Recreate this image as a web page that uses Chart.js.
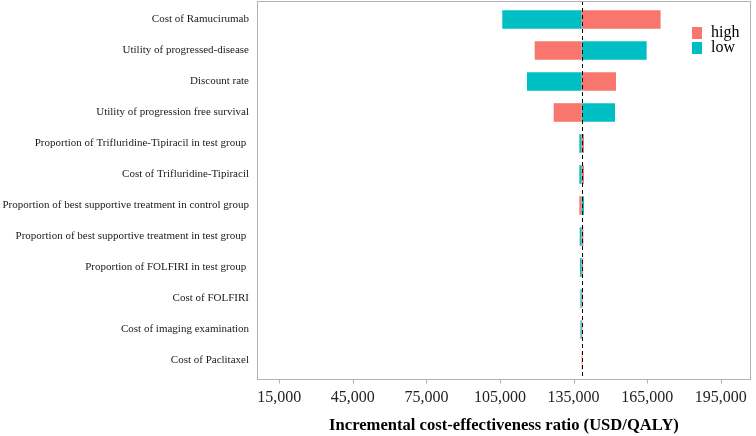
<!DOCTYPE html>
<html>
<head>
<meta charset="utf-8">
<script src="https://cdn.jsdelivr.net/npm/chart.js@4"></script>
<style>
  html, body { margin: 0; padding: 0; background: #fff; }
  #wrap { width: 756px; height: 436px; }
</style>
</head>
<body>
<div id="wrap"><canvas id="chart" width="756" height="436"></canvas></div>
<script>
// Data
var categories = [
    "Cost of Ramucirumab",
    "Utility of progressed-disease",
    "Discount rate",
    "Utility of progression free survival",
    "Proportion of Trifluridine-Tipiracil in test group ",
    "Cost of Trifluridine-Tipiracil",
    "Proportion of best supportive treatment in control group",
    "Proportion of best supportive treatment in test group ",
    "Proportion of FOLFIRI in test group ",
    "Cost of FOLFIRI",
    "Cost of imaging examination",
    "Cost of Paclitaxel"
];
var baseIcer = 138300;
var highValues = [170500, 119150, 152300, 126900, 139250, 139250, 137350, 139000, 138900, 138700, 138600, 138600];
var lowValues  = [105940, 164800, 116000, 151900, 137350, 137350, 139250, 137500, 137600, 137800, 137800, 138300];
var xTicks = [15000, 45000, 75000, 105000, 135000, 165000, 195000];

var colHigh = "#F8766D";
var colLow = "#00BFC4";
var serif = "'Liberation Serif', 'Times New Roman', serif";
var panelExpand = 3; // panel border sits a little outside the category bands

// Plot border, x tick marks, dashed base line
var panelPlugin = {
    id: "panel",
    afterDatasetsDraw: function(chart){
        var ctx = chart.ctx;
        var a = chart.chartArea;
        var xs = chart.scales.x;
        var top = a.top - panelExpand, bottom = a.bottom + panelExpand;
        var x = Math.round(xs.getPixelForValue(baseIcer)) + 0.5;
        ctx.save();
        ctx.strokeStyle = "#000";
        ctx.lineWidth = 1;
        ctx.setLineDash([4, 3]);
        ctx.beginPath();
        ctx.moveTo(x, top);
        ctx.lineTo(x, bottom);
        ctx.stroke();
        ctx.setLineDash([]);
        ctx.strokeStyle = "#b3b3b3";
        ctx.strokeRect(a.left + 0.5, top + 0.5, a.right - a.left - 1, bottom - top);
        ctx.beginPath();
        xTicks.forEach(function(v){
            var tx = Math.round(xs.getPixelForValue(v)) + 0.5;
            ctx.moveTo(tx, bottom + 0.5);
            ctx.lineTo(tx, bottom + 4.5);
        });
        ctx.stroke();
        ctx.restore();
    }
};

// Legend inside the panel, top right
var legendPlugin = {
    id: "keyLegend",
    afterDraw: function(chart){
        var ctx = chart.ctx;
        var items = [["high", colHigh, 27], ["low", colLow, 42]];
        ctx.save();
        ctx.font = "16px " + serif;
        ctx.textBaseline = "middle";
        ctx.textAlign = "left";
        items.forEach(function(it){
            ctx.fillStyle = it[1];
            ctx.fillRect(692, it[2], 10, 12);
            ctx.fillStyle = "#000";
            ctx.fillText(it[0], 711, it[2] + 6);
        });
        ctx.restore();
    }
};

var chart = new Chart(document.getElementById("chart"), {
    type: "bar",
    data: {
        labels: categories,
        datasets: [
            { label: "high", data: highValues, base: baseIcer, backgroundColor: colHigh, borderWidth: 0 },
            { label: "low", data: lowValues, base: baseIcer, backgroundColor: colLow, borderWidth: 0 }
        ]
    },
    options: {
        indexAxis: "y",
        responsive: false,
        animation: false,
        devicePixelRatio: 1,
        categoryPercentage: 1,
        barPercentage: 0.6,
        layout: { padding: { top: 4, right: 5, left: 0, bottom: 0 } },
        plugins: { legend: { display: false }, tooltip: { enabled: false } },
        scales: {
            y: {
                type: "category",
                stacked: true,
                offset: true,
                grid: { display: false, drawTicks: false },
                border: { display: false },
                ticks: { font: { family: serif, size: 11 }, color: "#1a1a1a", padding: 8, autoSkip: false },
                afterFit: function(scale){
                    scale.width = 257;
                    scale.paddingTop = 0;
                    scale.paddingBottom = 0;
                }
            },
            x: {
                type: "linear",
                stacked: false,
                min: 5906,
                max: 207360,
                afterBuildTicks: function(scale){
                    scale.ticks = xTicks.map(function(v){ return { value: v }; });
                },
                grid: { display: false, drawTicks: false },
                border: { display: false },
                ticks: {
                    font: { family: serif, size: 16 },
                    color: "#222",
                    padding: 12,
                    maxRotation: 0,
                    callback: function(v){ return v.toLocaleString("en-US"); }
                },
                title: {
                    display: true,
                    text: "Incremental cost-effectiveness ratio (USD/QALY)",
                    font: { family: serif, size: 16.6, weight: "bold" },
                    color: "#000",
                    padding: { top: 0, bottom: 0 }
                },
                afterFit: function(scale){
                    scale.height = 60;
                    scale.paddingLeft = 0;
                    scale.paddingRight = 0;
                }
            }
        }
    },
    plugins: [panelPlugin, legendPlugin]
});
</script>
</body>
</html>
